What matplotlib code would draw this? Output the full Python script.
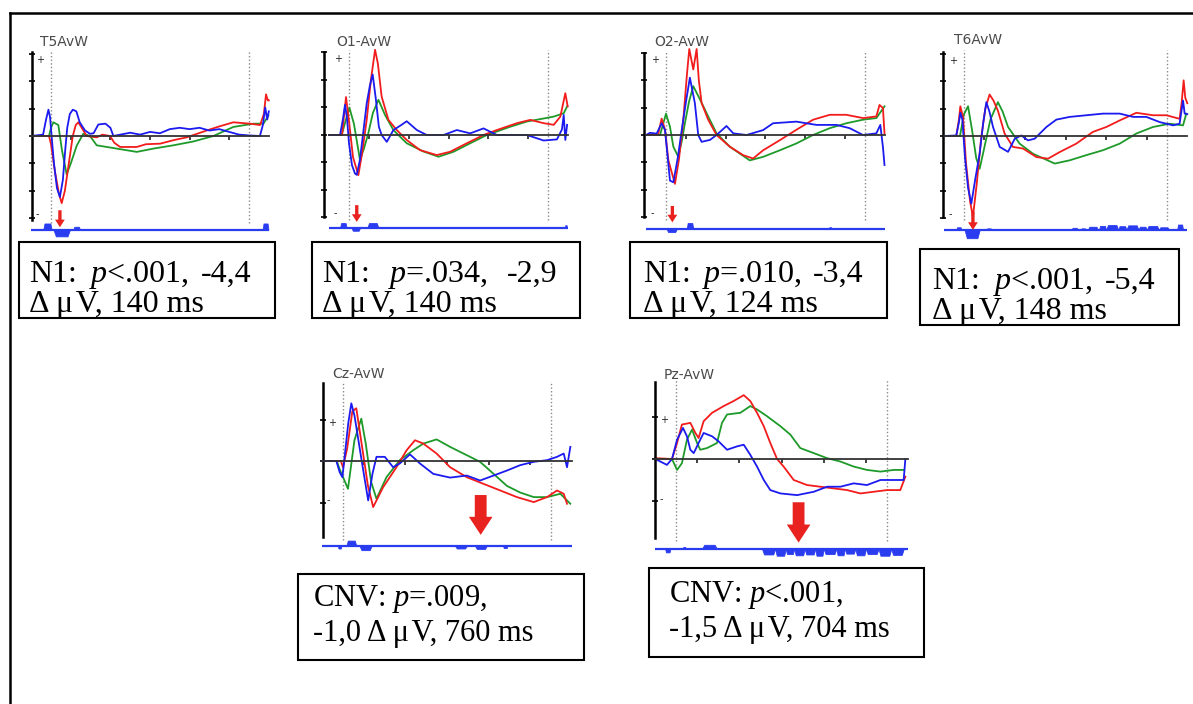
import matplotlib
matplotlib.use("Agg")
import matplotlib.pyplot as plt
from matplotlib.lines import Line2D
from matplotlib.patches import Rectangle

plt.rcParams["mathtext.fontset"] = "custom"
plt.rcParams["mathtext.rm"] = "Liberation Serif"
plt.rcParams["mathtext.it"] = "Liberation Serif:italic"

W, H = 1193, 704

# --- grand averages: (time ms, amplitude in y-tick units) ---
T5_BLUE = [(-100, 0), (-40, 0.05), (-25, 0.6), (-13, 0.96), (-5, 0.7), (3, 0), (15, -1.0), (30, -1.9),
           (45, -2.23), (60, -1.6), (72, -0.5), (82, 0.3), (95, 0.8), (110, 0.96), (128, 0.9), (145, 0.5),
           (172, 0.2), (197, 0.08), (215, 0.1), (239, 0.42), (275, 0.45), (300, 0.3), (315, 0.0), (350, 0.05),
           (400, 0.12), (450, 0.05), (500, 0.15), (550, 0.1), (600, 0.25), (650, 0.3), (700, 0.25), (750, 0.3),
           (800, 0.2), (850, 0.25), (900, 0.15), (950, 0.05), (1000, 0.02), (1055, 0.0), (1070, 0.4),
           (1082, 1.04), (1092, 0.6), (1100, 0.9)]
T5_RED = [(-100, 0), (-10, 0.0), (0, -0.3), (20, -1.3), (40, -2.1), (54, -2.45), (70, -2.0), (90, -1.0),
          (110, 0.0), (125, 0.4), (138, 0.5), (155, 0.3), (180, 0.0), (231, -0.05), (260, 0.05), (298, 0.0),
          (320, -0.25), (349, -0.4), (433, -0.4), (480, -0.3), (551, -0.28), (620, -0.15), (685, -0.05),
          (786, 0.2), (850, 0.35), (921, 0.5), (1005, 0.45), (1056, 0.4), (1075, 0.8), (1086, 1.52),
          (1095, 1.3), (1100, 1.3)]
T5_GREEN = [(-100, 0), (-10, 0.0), (0, 0.3), (12, 0.5), (37, 0.4), (55, -0.5), (79, -1.4), (100, -1.0),
            (130, -0.35), (163, 0.08), (197, 0.0), (231, -0.34), (332, -0.46), (433, -0.58), (517, -0.46),
            (618, -0.34), (719, -0.2), (820, 0.0), (921, 0.33), (1022, 0.45), (1073, 0.45), (1098, 0.75)]

O1_BLUE = [(-100, 0), (-45, 0), (-30, 0.6), (-20, 1.1), (-10, 0.6), (0, -0.3), (15, -1.1), (30, -1.4),
           (39, -1.45), (55, -0.9), (70, 0.0), (89, 1.15), (105, 1.8), (119, 2.2), (135, 1.3), (150, 0.3),
           (164, 0.0), (190, -0.25), (223, 0.18), (260, 0.35), (290, 0.5), (341, 0.18), (391, 0.0),
           (475, 0.0), (542, 0.18), (609, 0.06), (676, 0.24), (743, 0.0), (810, 0.0), (894, 0.0),
           (978, -0.2), (1045, -0.16), (1070, 0.2), (1079, 0.73), (1087, -0.18), (1096, 0.37)]
O1_RED = [(-100, 0), (-35, 0), (-15, 1.38), (0, 0.5), (20, -0.8), (47, -1.46), (65, -0.7), (89, 0.55),
          (110, 2.0), (131, 3.1), (145, 2.6), (164, 1.4), (198, 0.55), (240, 0.18), (290, -0.18),
          (357, -0.55), (441, -0.73), (508, -0.61), (592, -0.3), (676, 0.0), (743, 0.18), (844, 0.43),
          (911, 0.55), (978, 0.43), (1029, 0.37), (1062, 0.67), (1087, 1.52), (1099, 1.04)]
O1_GREEN = [(-100, 0), (-37, 0), (2, 1.0), (25, 0.4), (55, -0.9), (75, -0.5), (97, 0.06), (120, 0.8),
            (148, 1.28), (181, 0.73), (223, 0.18), (290, -0.3), (374, -0.6), (450, -0.79), (525, -0.61),
            (609, -0.3), (693, 0.0), (810, 0.3), (894, 0.49), (978, 0.6), (1029, 0.67), (1079, 0.79),
            (1096, 1.04)]

O2_BLUE = [(-100, 0), (-80, 0.08), (-47, 0.05), (-22, 0.43), (-5, 0.18), (20, -1.67), (37, -1.73),
           (60, -0.8), (79, 0.18), (100, 1.2), (120, 2.1), (145, 1.17), (162, 0.0), (179, -0.25),
           (221, -0.18), (254, 0.0), (304, 0.33), (338, 0.06), (405, 0.0), (488, 0.18), (538, 0.43),
           (655, 0.49), (756, 0.37), (856, 0.37), (923, 0.25), (990, 0.0), (1057, 0.06), (1077, 0.37),
           (1090, -0.43), (1098, -1.1)]
O2_RED = [(-100, 0), (-40, 0.0), (-22, 0.6), (-5, 0.2), (12, -0.93), (45, -1.79), (65, -0.9), (87, 0.56),
          (105, 2.2), (117, 3.15), (137, 2.4), (154, 3.15), (165, 2.0), (179, 1.17), (212, 0.56), (254, 0.0),
          (321, -0.43), (388, -0.74), (438, -0.86), (488, -0.56), (572, -0.19), (655, 0.19), (739, 0.56),
          (823, 0.74), (906, 0.74), (990, 0.62), (1057, 0.68), (1073, 1.1), (1090, 0.99), (1098, 0.06)]
O2_GREEN = [(-100, 0), (-30, 0.0), (0, 0.78), (20, 0.3), (37, -0.43), (62, -0.8), (80, -0.2), (95, 0.43),
            (115, 1.2), (137, 1.79), (171, 1.3), (212, 0.68), (254, 0.06), (321, -0.43), (421, -0.93),
            (488, -0.8), (572, -0.56), (655, -0.31), (739, 0.0), (823, 0.25), (906, 0.43), (990, 0.56),
            (1057, 0.62), (1098, 1.05)]

T6_BLUE = [(-95, 0), (-38, 0.02), (-25, 0.5), (-18, 0.85), (-8, 0.6), (5, -0.8), (20, -1.9), (36, -2.48),
           (55, -1.6), (77, -0.65), (95, 0.5), (110, 1.24), (125, 0.9), (143, 0.33), (176, -0.4),
           (217, -0.58), (250, -0.1), (282, 0.02), (315, -0.16), (348, -0.1), (406, 0.33), (455, 0.6),
           (521, 0.7), (603, 0.76), (685, 0.82), (767, 0.82), (833, 0.7), (898, 0.7), (964, 0.51),
           (1030, 0.39), (1062, 0.45), (1079, 1.3), (1087, 0.82), (1100, 0.8)]
T6_RED = [(-95, 0), (-38, 0.0), (-25, 0.6), (-18, 1.09), (-5, 0.7), (10, -1.0), (30, -2.4), (44, -2.96),
          (62, -1.8), (85, -0.04), (105, 1.0), (126, 1.52), (145, 1.3), (167, 0.93), (200, 0.09),
          (241, -0.4), (291, -0.46), (356, -0.77), (414, -0.83), (471, -0.59), (553, -0.28), (635, 0.15),
          (701, 0.33), (767, 0.57), (849, 0.85), (931, 0.76), (997, 0.76), (1062, 0.63), (1072, 1.2),
          (1082, 2.04), (1090, 1.4), (1100, 1.2)]
T6_GREEN = [(-95, 0), (-20, 0.0), (0, 0.8), (20, 1.09), (40, 0.2), (60, -0.8), (77, -1.2), (95, -0.6),
            (130, 0.6), (167, 1.24), (190, 0.9), (217, 0.33), (274, -0.28), (340, -0.65), (447, -1.01),
            (521, -0.89), (603, -0.7), (685, -0.52), (767, -0.28), (849, 0.09), (931, 0.33), (1013, 0.45),
            (1079, 0.39), (1095, 0.82)]

CZ_BLUE = [(-100, 0.0), (-32, 0.0), (-16, -0.27), (-3, -0.39), (10, 0.2), (25, 0.9), (40, 1.39), (55, 1.1),
           (64, 0.82), (90, 0.0), (121, -0.95), (142, -0.3), (161, 0.1), (201, 0.1), (241, -0.15),
           (273, -0.06), (322, 0.16), (370, -0.06), (434, -0.31), (515, -0.4), (595, -0.35), (659, -0.47),
           (724, -0.35), (788, -0.23), (852, -0.1), (917, -0.02), (981, 0.02), (1029, 0.1), (1061, 0.18),
           (1077, -0.15), (1093, 0.34)]
CZ_RED = [(-100, 0.0), (-10, 0.0), (0, -0.15), (20, 0.3), (45, 1.2), (64, 1.27), (90, 0.4), (120, -0.6),
          (145, -1.11), (193, -0.63), (257, -0.15), (306, 0.26), (346, 0.5), (386, 0.42), (450, 0.18),
          (515, -0.15), (595, -0.39), (675, -0.55), (756, -0.71), (836, -0.87), (917, -0.99), (981, -0.87),
          (1029, -0.71), (1061, -0.79), (1077, -1.03)]
CZ_GREEN = [(-100, 0.0), (-30, 0.0), (-16, -0.2), (24, -0.67), (55, 0.5), (88, 1.02), (110, 0.4),
            (135, -0.5), (161, -0.91), (209, -0.39), (273, 0.02), (338, 0.26), (386, 0.42), (450, 0.52),
            (515, 0.34), (595, 0.14), (659, -0.02), (724, -0.31), (788, -0.6), (852, -0.76), (917, -0.87),
            (981, -0.87), (1045, -0.79), (1093, -1.03)]

PZ_BLUE = [(-98, 0.0), (-43, -0.14), (-19, 0.0), (5, 0.46), (33, 0.74), (52, 0.54), (68, 0.22), (84, 0.14),
           (107, 0.38), (131, 0.62), (171, 0.54), (202, 0.42), (242, 0.22), (289, 0.3), (321, 0.34),
           (352, 0.1), (384, -0.18), (416, -0.5), (447, -0.74), (495, -0.82), (574, -0.86), (653, -0.78),
           (716, -0.66), (779, -0.66), (842, -0.58), (905, -0.62), (969, -0.5), (1032, -0.5), (1079, -0.5),
           (1087, 0.0)]
PZ_RED = [(-98, 0.02), (-19, 0.0), (5, 0.38), (28, 0.82), (68, 0.86), (92, 0.62), (107, 0.5), (131, 0.9),
          (171, 1.1), (226, 1.26), (273, 1.38), (321, 1.52), (352, 1.38), (384, 1.1), (416, 0.78),
          (447, 0.38), (479, 0.0), (510, -0.18), (558, -0.5), (621, -0.62), (684, -0.66), (747, -0.7),
          (811, -0.74), (874, -0.82), (937, -0.78), (1000, -0.74), (1063, -0.74), (1087, -0.42)]
PZ_GREEN = [(-98, 0.0), (-19, 0.0), (5, -0.26), (28, -0.1), (52, 0.46), (76, 0.7), (100, 0.38), (115, 0.22),
            (147, 0.26), (194, 0.38), (218, 0.86), (242, 1.06), (305, 1.1), (352, 1.26), (384, 1.18),
            (431, 1.02), (495, 0.78), (542, 0.58), (589, 0.26), (653, 0.14), (716, 0.02), (779, -0.06),
            (842, -0.18), (905, -0.26), (969, -0.3), (1032, -0.26), (1079, -0.26)]

# significance strip blobs: (start ms, end ms, signed height)
T5_SIG = [(-39, 3, 0.22), (12, 96, -0.25), (113, 146, 0.1), (1069, 1098, 0.22)]
O1_SIG = [(-45, -12, 0.18), (13, 55, -0.1), (92, 148, 0.18), (1085, 1095, 0.1)]
O2_SIG = [(3, 54, -0.11), (104, 137, 0.22), (820, 830, 0.07)]
T6_SIG = [(-38, -13, 0.1), (3, 77, -0.3), (110, 135, 0.06), (530, 560, 0.08), (575, 600, 0.06),
          (610, 660, 0.12), (665, 700, 0.15), (700, 760, 0.18), (760, 800, 0.14), (800, 860, 0.17),
          (860, 900, 0.12), (900, 960, 0.15), (960, 1010, 0.1), (1050, 1079, 0.2)]
CZ_SIG = [(-24, -8, -0.06), (16, 64, 0.13), (80, 137, -0.1), (539, 595, -0.06), (635, 691, -0.07),
          (770, 790, -0.05)]
PZ_SIG = [(-51, -27, -0.08), (33, 45, 0.05), (123, 194, 0.1), (408, 470, -0.13), (470, 520, -0.16),
          (520, 560, -0.12), (560, 610, -0.15), (610, 660, -0.13), (660, 700, -0.16), (700, 760, -0.12),
          (760, 800, -0.15), (800, 850, -0.11), (850, 900, -0.15), (900, 960, -0.12), (960, 1020, -0.16),
          (1020, 1079, -0.14)]

# effect markers: (time ms, arrow tail, arrow tip)
ARROWS = {"T5": (45, -2.71, -3.33), "O1": (39, -2.55, -3.16), "O2": (32, -2.6, -3.2),
          "T6": (44, -2.78, -3.44), "Cz": (662, -0.82, -1.78), "Pz": (581, -1.03, -1.99)}

UV = "Δ\u2009μ\u200aV"
TITLES = {"T5": "T5AvW", "O1": "O1-AvW", "O2": "O2-AvW", "T6": "T6AvW", "Cz": "Cz-AvW", "Pz": "Pz-AvW"}
STATS = {"T5": ("N1: $p$<.001, -4,4", UV + ", 140 ms"),
         "O1": ("N1: $p$=.034, -2,9", UV + ", 140 ms"),
         "O2": ("N1: $p$=.010, -3,4", UV + ", 124 ms"),
         "T6": ("N1: $p$<.001, -5,4", UV + ", 148 ms"),
         "Cz": ("CNV: $p$=.009,", "-1,0 " + UV + ", 760 ms"),
         "Pz": ("CNV: $p$<.001,", "-1,5 " + UV + ", 704 ms")}
JUSTIFY = {"T5", "O1", "O2", "T6"}

TRACES = {"T5": (T5_GREEN, T5_RED, T5_BLUE), "O1": (O1_GREEN, O1_RED, O1_BLUE),
          "O2": (O2_GREEN, O2_RED, O2_BLUE), "T6": (T6_GREEN, T6_RED, T6_BLUE),
          "Cz": (CZ_GREEN, CZ_RED, CZ_BLUE), "Pz": (PZ_GREEN, PZ_RED, PZ_BLUE)}
SIGS = {"T5": T5_SIG, "O1": O1_SIG, "O2": O2_SIG, "T6": T6_SIG, "Cz": CZ_SIG, "Pz": PZ_SIG}
EVENTS = [0, 1000]
TIME_TICKS = [100, 300, 500, 700, 900]

TRACE_COLORS = ["#1e9a2a", "#f21c1c", "#1b1bf0"]
SIG_COLOR = "#2a3cf0"
ARROW_COLOR = "#e8221e"
SERIF = ["Liberation Serif", "DejaVu Serif"]

# --- layout in pixels ---
# t0 px, px per ms, zero-line px, px per unit, y-axis px, axis top, axis bottom, strip px
GEOM = {"T5": (51, 0.198, 136, 27.4, 32, 52, 220, 229.5),
        "O1": (349, 0.199, 135, 27.5, 324, 52, 217, 228),
        "O2": (666, 0.199, 135, 27.3, 644, 53, 217, 229),
        "T6": (964, 0.203, 136, 27.3, 943, 52, 217, 230),
        "Cz": (343, 0.208, 461, 41.5, 323, 383, 537, 546),
        "Pz": (676, 0.211, 459, 42.0, 655, 382, 538, 549)}
YTICKS = {"T5": [-3, -2, -1, 0, 1, 2, 3], "O1": [-3, -2, -1, 0, 1, 2, 3], "O2": [-3, -2, -1, 0, 1, 2, 3],
          "T6": [-3, -2, -1, 0, 1, 2, 3], "Cz": [-1, 0, 1], "Pz": [-1, 0, 1]}
TITLE_POS = {"T5": (40, 42), "O1": (336, 42), "O2": (654, 42), "T6": (954, 40), "Cz": (332, 374), "Pz": (664, 375)}
BOXES = {"T5": (19, 242, 275, 318), "O1": (312, 242, 580, 318), "O2": (630, 242, 887, 318),
         "T6": (920, 249, 1179, 325), "Cz": (298, 574, 584, 660), "Pz": (649, 568, 924, 657)}
TEXT_POS = {"T5": (29, 282, 312), "O1": (322, 282, 312), "O2": (643, 282, 312), "T6": (932, 289, 319),
            "Cz": (313, 606, 641), "Pz": (669, 602, 637)}
TEXT_SIZE = {"T5": 23, "O1": 23, "O2": 23, "T6": 23, "Cz": 22, "Pz": 22}

fig = plt.figure(figsize=(W / 100, H / 100), dpi=100)
renderer = fig.canvas.get_renderer()


def fx(x):
    return x / W


def fy(y):
    return 1 - y / H


for key in GEOM:
    t0, ppm, zero, ppu, axx, top, bot, sigy = GEOM[key]
    xa, xb = axx - 14, t0 + 1112 * ppm
    ya, yb = top - 12, sigy + 12
    ax = fig.add_axes([fx(xa), fy(yb), (xb - xa) / W, (yb - ya) / H])
    ax.set_xlim((xa - t0) / ppm, (xb - t0) / ppm)
    ax.set_ylim((zero - yb) / ppu, (zero - ya) / ppu)
    ax.patch.set_alpha(0)
    ax.spines["top"].set_visible(False)
    ax.spines["right"].set_visible(False)
    ax.spines["left"].set_position(("data", (axx - t0) / ppm))
    ax.spines["left"].set_bounds((zero - bot) / ppu, (zero - top) / ppu)
    ax.spines["left"].set_linewidth(1.8)
    ax.spines["bottom"].set_position(("data", 0))
    ax.spines["bottom"].set_bounds(-100, 1100)
    ax.spines["bottom"].set_color("#333333")
    ax.spines["bottom"].set_linewidth(1.3)
    ax.set_yticks(YTICKS[key])
    ax.set_xticks(TIME_TICKS)
    ax.tick_params(axis="y", direction="inout", length=4, width=1.2, labelleft=False)
    ax.tick_params(axis="x", direction="out", length=3, width=1.3, color="#333333", labelbottom=False)

    strip = (zero - sigy) / ppu
    ax.vlines(EVENTS, (zero - (bot + 3)) / ppu, (zero - (top - 2)) / ppu,
              colors="#8a8a8a", linestyles=(0, (1, 1.6)), lw=1.0)
    ax.hlines(strip, -100, 1100, colors=SIG_COLOR, lw=1.6)
    for s, e, a in SIGS[key]:
        w = e - s
        ax.fill_between([s, s + 0.15 * w, e - 0.15 * w, e], strip, [strip, strip + a, strip + a, strip],
                        color=SIG_COLOR, lw=0.6, edgecolor=SIG_COLOR)

    for trace, color in zip(TRACES[key], TRACE_COLORS):
        t, v = zip(*trace)
        ax.plot(t, v, color=color, lw=1.3, solid_joinstyle="round")

    ax.text(-55, YTICKS[key][-1] * 0.92, "+", fontsize=7, ha="center", va="center", color="#222222")
    ax.text(-70, YTICKS[key][0] * 0.95, "-", fontsize=7, ha="center", va="center", color="#222222")

    at, tail, tip = ARROWS[key]
    big = key in ("Cz", "Pz")
    ax.annotate("", xy=(at, tip), xytext=(at, tail),
                arrowprops=dict(facecolor=ARROW_COLOR, edgecolor="none", shrink=0,
                                width=8.5 if big else 2.4, headwidth=17 if big else 7,
                                headlength=13 if big else 5.5))

    tx, ty = TITLE_POS[key]
    fig.text(fx(tx), fy(ty), TITLES[key], fontsize=10, color="#4a4a4a", ha="left", va="center")

    x0, y0, x1, y1 = BOXES[key]
    fig.add_artist(Rectangle((fx(x0), fy(y1)), (x1 - x0) / W, (y1 - y0) / H, transform=fig.transFigure,
                             fill=False, edgecolor="black", lw=1.5))
    lx, b1, b2 = TEXT_POS[key]
    line1, line2 = STATS[key]
    size = TEXT_SIZE[key]
    if key in JUSTIFY:
        # first line of a wrapped, justified paragraph: stretch the spaces up to the right margin
        words = line1.split(" ")
        arts = [fig.text(0, fy(b1), w, fontsize=size, family=SERIF, va="baseline", ha="left")
                for w in words]
        widths = [a.get_window_extent(renderer).width for a in arts]
        gap = max((x1 - 23 - lx - sum(widths)) / (len(words) - 1), 0.25 * size * 100 / 72)
        pos = lx
        for a, wd in zip(arts, widths):
            a.set_x(fx(pos))
            pos += wd + gap
    else:
        fig.text(fx(lx), fy(b1), line1, fontsize=size, family=SERIF, va="baseline", ha="left")
    fig.text(fx(lx), fy(b2), line2, fontsize=size, family=SERIF, va="baseline", ha="left")

# frame of the table cell
fig.add_artist(Line2D([fx(9.5), fx(9.5)], [fy(12.5), 0], transform=fig.transFigure, color="black", lw=1.8))
fig.add_artist(Line2D([fx(9.5), 1], [fy(12.5), fy(12.5)], transform=fig.transFigure, color="black", lw=1.8))

fig.savefig("out.png", dpi=100)
